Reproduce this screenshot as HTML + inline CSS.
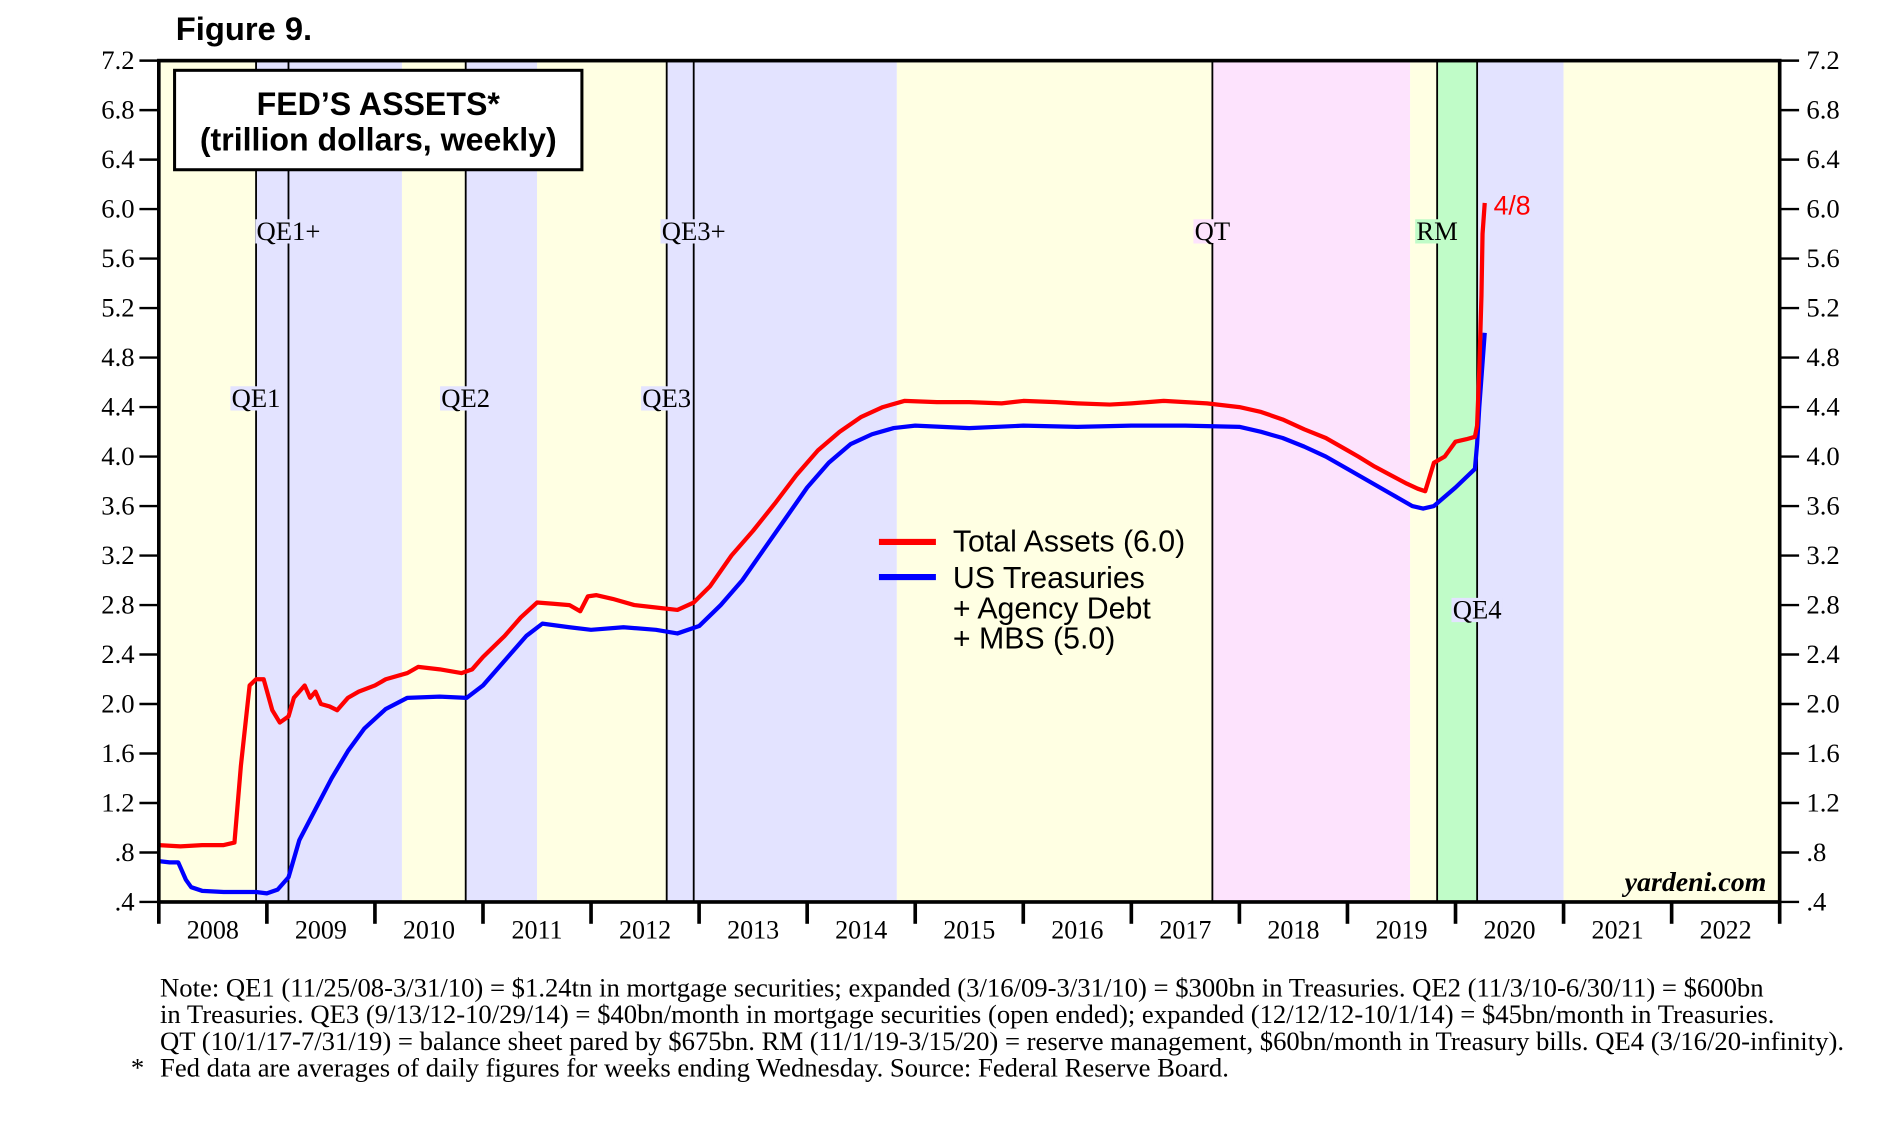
<!DOCTYPE html>
<html><head><meta charset="utf-8">
<style>
html,body{margin:0;padding:0;background:#fff;}
svg{display:block;}
.tm{font-family:"Liberation Serif",serif;}
.ss{font-family:"Liberation Sans",sans-serif;}
</style></head>
<body>
<svg id="chart" width="1900" height="1128" viewBox="0 0 1550 920.2" xmlns="http://www.w3.org/2000/svg">
<g transform="scale(0.989)">
<g id="bands"></g>
<g id="vlines"></g>
<g id="series"></g>
<rect x="131" y="50" width="1337" height="694" fill="none" stroke="#000" stroke-width="3"/>
<g id="axes"></g>
<text class="ss" x="145" y="33" font-size="27" font-weight="bold">Figure 9.</text>
<g>
<rect x="144" y="58" width="336" height="82" fill="#fff" stroke="#000" stroke-width="2.5"/>
<text class="ss" x="312" y="95" font-size="26.5" font-weight="bold" text-anchor="middle">FED’S ASSETS*</text>
<text class="ss" x="312" y="124" font-size="26.5" font-weight="bold" text-anchor="middle">(trillion dollars, weekly)</text>
</g>
<g>
<line x1="725" y1="447" x2="772" y2="447" stroke="#f00" stroke-width="5"/>
<text class="ss" x="786" y="455" font-size="25">Total Assets (6.0)</text>
<line x1="725" y1="476" x2="772" y2="476" stroke="#00f" stroke-width="5"/>
<text class="ss" font-size="25"><tspan x="786" y="485">US Treasuries</tspan><tspan x="786" y="510">+ Agency Debt</tspan><tspan x="786" y="535">+ MBS (5.0)</tspan></text>
</g>
<text class="ss" x="1232" y="177" font-size="22" fill="#f00">4/8</text>
<text class="tm" x="1457" y="735" font-size="23" font-style="italic" font-weight="bold" text-anchor="end">yardeni.com</text>
<g class="tm" font-size="22">
<text x="132" y="822">Note: QE1 (11/25/08-3/31/10) = $1.24tn in mortgage securities; expanded (3/16/09-3/31/10) = $300bn in Treasuries. QE2 (11/3/10-6/30/11) = $600bn</text>
<text x="132" y="844">in Treasuries. QE3 (9/13/12-10/29/14) = $40bn/month in mortgage securities (open ended); expanded (12/12/12-10/1/14) = $45bn/month in Treasuries.</text>
<text x="132" y="866">QT (10/1/17-7/31/19) = balance sheet pared by $675bn. RM (11/1/19-3/15/20) = reserve management, $60bn/month in Treasury bills. QE4 (3/16/20-infinity).</text>
<text x="108" y="888">*</text>
<text x="132" y="888">Fed data are averages of daily figures for weeks ending Wednesday. Source: Federal Reserve Board.</text>
</g>
</g>
</svg>
<script>
const yTicks=[7.2,6.8,6.4,6.0,5.6,5.2,4.8,4.4,4.0,3.6,3.2,2.8,2.4,2.0,1.6,1.2,0.8,0.4];
const yTickLabels=["7.2","6.8","6.4","6.0","5.6","5.2","4.8","4.4","4.0","3.6","3.2","2.8","2.4","2.0","1.6","1.2",".8",".4"];
const years=[2008,2009,2010,2011,2012,2013,2014,2015,2016,2017,2018,2019,2020,2021,2022];
const bandStarts=[2008,2008.9,2010.25,2010.84,2011.5,2012.7,2014.83,2017.75,2019.58,2019.83,2020.2,2021];
const bandEnds=[2008.9,2010.25,2010.84,2011.5,2012.7,2014.83,2017.75,2019.58,2019.83,2020.2,2021,2023];
const bandColors=["#ffffe3","#e3e3ff","#ffffe3","#e3e3ff","#ffffe3","#e3e3ff","#ffffe3","#fde3fd","#ffffe3","#c0fcc8","#e3e3ff","#ffffe3"];
const eventDates=[2008.9,2009.2,2010.84,2012.7,2012.95,2017.75,2019.83,2020.2];
const eventLabels=["QE1","QE1+","QE2","QE3","QE3+","QT","RM","QE4"];
const eventLabelValues=[4.47,5.82,4.47,4.47,5.82,5.82,5.82,2.76];
const totalDates=[2008.0,2008.2,2008.4,2008.6,2008.7,2008.76,2008.84,2008.9,2008.97,2009.05,2009.12,2009.2,2009.25,2009.3,2009.35,2009.4,2009.45,2009.5,2009.58,2009.65,2009.75,2009.85,2010.0,2010.1,2010.3,2010.4,2010.6,2010.8,2010.9,2011.0,2011.2,2011.35,2011.5,2011.65,2011.8,2011.9,2011.97,2012.05,2012.2,2012.4,2012.6,2012.8,2012.95,2013.1,2013.3,2013.5,2013.7,2013.9,2014.1,2014.3,2014.5,2014.7,2014.9,2015.2,2015.5,2015.8,2016.0,2016.3,2016.5,2016.8,2017.0,2017.3,2017.7,2018.0,2018.2,2018.4,2018.6,2018.8,2019.0,2019.1,2019.25,2019.4,2019.55,2019.65,2019.72,2019.8,2019.9,2020.0,2020.1,2020.18,2020.2,2020.22,2020.24,2020.25,2020.27];
const totalValues=[0.86,0.85,0.86,0.86,0.88,1.5,2.15,2.2,2.2,1.95,1.85,1.9,2.05,2.1,2.15,2.05,2.1,2.0,1.98,1.95,2.05,2.1,2.15,2.2,2.25,2.3,2.28,2.25,2.28,2.38,2.55,2.7,2.82,2.81,2.8,2.75,2.87,2.88,2.85,2.8,2.78,2.76,2.82,2.95,3.2,3.4,3.62,3.85,4.05,4.2,4.32,4.4,4.45,4.44,4.44,4.43,4.45,4.44,4.43,4.42,4.43,4.45,4.43,4.4,4.36,4.3,4.22,4.15,4.05,4.0,3.92,3.85,3.78,3.74,3.72,3.95,4.0,4.12,4.14,4.16,4.25,4.7,5.3,5.8,6.05];
const treasDates=[2008.0,2008.1,2008.18,2008.25,2008.3,2008.4,2008.6,2008.9,2009.0,2009.1,2009.2,2009.3,2009.45,2009.6,2009.75,2009.9,2010.1,2010.3,2010.6,2010.85,2011.0,2011.2,2011.4,2011.55,2011.8,2012.0,2012.3,2012.6,2012.8,2013.0,2013.2,2013.4,2013.6,2013.8,2014.0,2014.2,2014.4,2014.6,2014.8,2015.0,2015.5,2016.0,2016.5,2017.0,2017.5,2018.0,2018.2,2018.4,2018.6,2018.8,2019.0,2019.2,2019.4,2019.6,2019.7,2019.8,2020.0,2020.18,2020.2,2020.22,2020.27];
const treasValues=[0.73,0.72,0.72,0.58,0.52,0.49,0.48,0.48,0.47,0.5,0.6,0.9,1.15,1.4,1.62,1.8,1.96,2.05,2.06,2.05,2.15,2.35,2.55,2.65,2.62,2.6,2.62,2.6,2.57,2.63,2.8,3.0,3.25,3.5,3.75,3.95,4.1,4.18,4.23,4.25,4.23,4.25,4.24,4.25,4.25,4.24,4.2,4.15,4.08,4.0,3.9,3.8,3.7,3.6,3.58,3.6,3.75,3.9,4.1,4.4,5.0];

const NS="http://www.w3.org/2000/svg";
const L=131,R=1468,T=50,B=744;
function xs(d){return L+(d-2008)*(R-L)/15;}
function ys(v){return B-(v-0.4)*(B-T)/6.8;}
function mk(tag,attrs,parent){const e=document.createElementNS(NS,tag);for(const k in attrs)e.setAttribute(k,attrs[k]);parent.appendChild(e);return e;}
function bandColorAt(d){for(let i=0;i<bandStarts.length;i++){if(d>=bandStarts[i]&&d<bandEnds[i])return bandColors[i];}return '#fff';}
const bands=document.getElementById('bands');
for(let i=0;i<bandStarts.length;i++){
  const r=mk('rect',{x:xs(bandStarts[i]),y:T,width:xs(bandEnds[i])-xs(bandStarts[i]),height:B-T,fill:bandColors[i]},bands);
  
  
}
const vl=document.getElementById('vlines');
for(let i=0;i<eventDates.length;i++){
  const x=xs(eventDates[i]);
  const ln=mk('line',{x1:x,y1:T,x2:x,y2:B,stroke:'#000','stroke-width':1.5},vl);
  
  
}
for(let i=0;i<eventDates.length;i++){
  const x=xs(eventDates[i]);
  const y=ys(eventLabelValues[i]);
  const t=mk('text',{x:x,y:y+7,'text-anchor':'middle','font-size':22,class:'tm'},vl);
  t.textContent=eventLabels[i];
  
  
  const w=t.getComputedTextLength?t.getComputedTextLength():44;
  const bg=mk('rect',{x:x-w/2-1,y:y-10,width:w+2,height:20,fill:bandColorAt(eventDates[i]+0.01)},vl);
  vl.insertBefore(bg,t);
}
const ser=document.getElementById('series');
function path(ds,vs,color,name){
  let d='';for(let i=0;i<ds.length;i++)d+=(i?'L':'M')+xs(ds[i]).toFixed(1)+','+ys(vs[i]).toFixed(1);
  const p=mk('path',{d:d,fill:'none',stroke:color,'stroke-width':3.5,'stroke-linejoin':'round'},ser);
  
  
}
path(treasDates,treasValues,'#00f','treasuries-line');
path(totalDates,totalValues,'#f00','total-assets-line');
const ax=document.getElementById('axes');
for(let i=0;i<yTicks.length;i++){
  const y=ys(yTicks[i]);
  mk('line',{x1:115,y1:y,x2:131,y2:y,stroke:'#000','stroke-width':2},ax);
  mk('line',{x1:1468,y1:y,x2:1484,y2:y,stroke:'#000','stroke-width':2},ax);
  const a=mk('text',{x:111,y:y+7,'text-anchor':'end','font-size':22,class:'tm'},ax);
  a.textContent=yTickLabels[i];
  
  
  const b=mk('text',{x:1490,y:y+7,'font-size':22,class:'tm'},ax);
  b.textContent=yTickLabels[i];
  
  
}
for(let i=0;i<=years.length;i++){
  const x=xs(2008+i);
  mk('line',{x1:x,y1:B,x2:x,y2:762,stroke:'#000','stroke-width':3},ax);
}
for(let i=0;i<years.length;i++){
  const t=mk('text',{x:xs(years[i]+0.5),y:774,'text-anchor':'middle','font-size':21.5,class:'tm'},ax);
  t.textContent=years[i];
  
  
}
</script>
</body></html>
